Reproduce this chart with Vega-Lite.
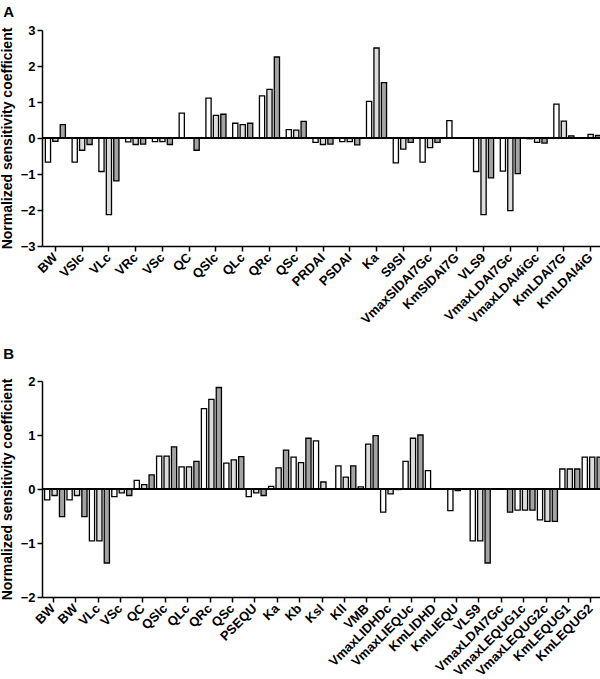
{
  "$schema": "https://vega.github.io/schema/vega-lite/v6.json",
  "padding": {"left": 0, "top": 5, "right": 0, "bottom": 0},
  "background": "white",
  "config": {
    "font": "Liberation Sans",
    "view": {"stroke": null},
    "axis": {"grid": false, "domainColor": "black", "domainWidth": 1.5, "tickColor": "black", "tickWidth": 1.5, "tickSize": 5, "labelColor": "black", "labelFont": "Liberation Sans", "labelFontWeight": "bold", "labelFontSize": 13, "titleFont": "Liberation Sans", "titleFontWeight": "bold", "titleFontSize": 14, "titleColor": "black"},
    "title": {"font": "Liberation Sans", "fontSize": 15, "fontWeight": "bold", "color": "black", "anchor": "start", "frame": "bounds"}
  },
  "datasets": {
    "A": [
      {"param": "BW", "series": "Condition 1", "value": -0.67}, {"param": "BW", "series": "Condition 2", "value": -0.09}, {"param": "BW", "series": "Condition 3", "value": 0.37},
      {"param": "VSlc", "series": "Condition 1", "value": -0.67}, {"param": "VSlc", "series": "Condition 2", "value": -0.34}, {"param": "VSlc", "series": "Condition 3", "value": -0.18},
      {"param": "VLc", "series": "Condition 1", "value": -0.93}, {"param": "VLc", "series": "Condition 2", "value": -2.13}, {"param": "VLc", "series": "Condition 3", "value": -1.19},
      {"param": "VRc", "series": "Condition 1", "value": -0.11}, {"param": "VRc", "series": "Condition 2", "value": -0.18}, {"param": "VRc", "series": "Condition 3", "value": -0.17},
      {"param": "VSc", "series": "Condition 1", "value": -0.1}, {"param": "VSc", "series": "Condition 2", "value": -0.1}, {"param": "VSc", "series": "Condition 3", "value": -0.18},
      {"param": "QC", "series": "Condition 1", "value": 0.69}, {"param": "QC", "series": "Condition 2", "value": 0.0}, {"param": "QC", "series": "Condition 3", "value": -0.34},
      {"param": "QSlc", "series": "Condition 1", "value": 1.11}, {"param": "QSlc", "series": "Condition 2", "value": 0.63}, {"param": "QSlc", "series": "Condition 3", "value": 0.66},
      {"param": "QLc", "series": "Condition 1", "value": 0.41}, {"param": "QLc", "series": "Condition 2", "value": 0.37}, {"param": "QLc", "series": "Condition 3", "value": 0.41},
      {"param": "QRc", "series": "Condition 1", "value": 1.17}, {"param": "QRc", "series": "Condition 2", "value": 1.35}, {"param": "QRc", "series": "Condition 3", "value": 2.25},
      {"param": "QSc", "series": "Condition 1", "value": 0.23}, {"param": "QSc", "series": "Condition 2", "value": 0.22}, {"param": "QSc", "series": "Condition 3", "value": 0.46},
      {"param": "PRDAI", "series": "Condition 1", "value": -0.12}, {"param": "PRDAI", "series": "Condition 2", "value": -0.18}, {"param": "PRDAI", "series": "Condition 3", "value": -0.17},
      {"param": "PSDAI", "series": "Condition 1", "value": -0.1}, {"param": "PSDAI", "series": "Condition 2", "value": -0.1}, {"param": "PSDAI", "series": "Condition 3", "value": -0.19},
      {"param": "Ka", "series": "Condition 1", "value": 1.02}, {"param": "Ka", "series": "Condition 2", "value": 2.5}, {"param": "Ka", "series": "Condition 3", "value": 1.54},
      {"param": "S9SI", "series": "Condition 1", "value": -0.69}, {"param": "S9SI", "series": "Condition 2", "value": -0.31}, {"param": "S9SI", "series": "Condition 3", "value": -0.12},
      {"param": "VmaxSIDAI7Gc", "series": "Condition 1", "value": -0.67}, {"param": "VmaxSIDAI7Gc", "series": "Condition 2", "value": -0.27}, {"param": "VmaxSIDAI7Gc", "series": "Condition 3", "value": -0.12},
      {"param": "KmSIDAI7G", "series": "Condition 1", "value": 0.48}, {"param": "KmSIDAI7G", "series": "Condition 2", "value": 0.01}, {"param": "KmSIDAI7G", "series": "Condition 3", "value": 0.0},
      {"param": "VLS9", "series": "Condition 1", "value": -0.93}, {"param": "VLS9", "series": "Condition 2", "value": -2.13}, {"param": "VLS9", "series": "Condition 3", "value": -1.11},
      {"param": "VmaxLDAI7Gc", "series": "Condition 1", "value": -0.92}, {"param": "VmaxLDAI7Gc", "series": "Condition 2", "value": -2.02}, {"param": "VmaxLDAI7Gc", "series": "Condition 3", "value": -0.99},
      {"param": "VmaxLDAI4iGc", "series": "Condition 1", "value": -0.02}, {"param": "VmaxLDAI4iGc", "series": "Condition 2", "value": -0.12}, {"param": "VmaxLDAI4iGc", "series": "Condition 3", "value": -0.14},
      {"param": "KmLDAI7G", "series": "Condition 1", "value": 0.94}, {"param": "KmLDAI7G", "series": "Condition 2", "value": 0.47}, {"param": "KmLDAI7G", "series": "Condition 3", "value": 0.06},
      {"param": "KmLDAI4iG", "series": "Condition 1", "value": 0.01}, {"param": "KmLDAI4iG", "series": "Condition 2", "value": 0.1}, {"param": "KmLDAI4iG", "series": "Condition 3", "value": 0.07}
    ],
    "B": [
      {"param": "BW", "series": "Condition 1", "value": -0.2}, {"param": "BW", "series": "Condition 2", "value": -0.12}, {"param": "BW", "series": "Condition 3", "value": -0.51},
      {"param": "BW (2)", "series": "Condition 1", "value": -0.2}, {"param": "BW (2)", "series": "Condition 2", "value": -0.12}, {"param": "BW (2)", "series": "Condition 3", "value": -0.51},
      {"param": "VLc", "series": "Condition 1", "value": -0.96}, {"param": "VLc", "series": "Condition 2", "value": -0.96}, {"param": "VLc", "series": "Condition 3", "value": -1.37},
      {"param": "VSc", "series": "Condition 1", "value": -0.14}, {"param": "VSc", "series": "Condition 2", "value": -0.07}, {"param": "VSc", "series": "Condition 3", "value": -0.12},
      {"param": "QC", "series": "Condition 1", "value": 0.16}, {"param": "QC", "series": "Condition 2", "value": 0.08}, {"param": "QC", "series": "Condition 3", "value": 0.26},
      {"param": "QSlc", "series": "Condition 1", "value": 0.61}, {"param": "QSlc", "series": "Condition 2", "value": 0.61}, {"param": "QSlc", "series": "Condition 3", "value": 0.78},
      {"param": "QLc", "series": "Condition 1", "value": 0.41}, {"param": "QLc", "series": "Condition 2", "value": 0.41}, {"param": "QLc", "series": "Condition 3", "value": 0.51},
      {"param": "QRc", "series": "Condition 1", "value": 1.49}, {"param": "QRc", "series": "Condition 2", "value": 1.66}, {"param": "QRc", "series": "Condition 3", "value": 1.88},
      {"param": "QSc", "series": "Condition 1", "value": 0.48}, {"param": "QSc", "series": "Condition 2", "value": 0.54}, {"param": "QSc", "series": "Condition 3", "value": 0.6},
      {"param": "PSEQU", "series": "Condition 1", "value": -0.14}, {"param": "PSEQU", "series": "Condition 2", "value": -0.07}, {"param": "PSEQU", "series": "Condition 3", "value": -0.12},
      {"param": "Ka", "series": "Condition 1", "value": 0.05}, {"param": "Ka", "series": "Condition 2", "value": 0.39}, {"param": "Ka", "series": "Condition 3", "value": 0.72},
      {"param": "Kb", "series": "Condition 1", "value": 0.59}, {"param": "Kb", "series": "Condition 2", "value": 0.49}, {"param": "Kb", "series": "Condition 3", "value": 0.94},
      {"param": "Ksl", "series": "Condition 1", "value": 0.89}, {"param": "Ksl", "series": "Condition 2", "value": 0.13}, {"param": "Ksl", "series": "Condition 3", "value": 0.0},
      {"param": "Kll", "series": "Condition 1", "value": 0.43}, {"param": "Kll", "series": "Condition 2", "value": 0.22}, {"param": "Kll", "series": "Condition 3", "value": 0.43},
      {"param": "VMB", "series": "Condition 1", "value": 0.04}, {"param": "VMB", "series": "Condition 2", "value": 0.83}, {"param": "VMB", "series": "Condition 3", "value": 0.99},
      {"param": "VmaxLIDHDc", "series": "Condition 1", "value": -0.43}, {"param": "VmaxLIDHDc", "series": "Condition 2", "value": -0.09}, {"param": "VmaxLIDHDc", "series": "Condition 3", "value": -0.01},
      {"param": "VmaxLIEQUc", "series": "Condition 1", "value": 0.51}, {"param": "VmaxLIEQUc", "series": "Condition 2", "value": 0.94}, {"param": "VmaxLIEQUc", "series": "Condition 3", "value": 1.0},
      {"param": "KmLIDHD", "series": "Condition 1", "value": 0.34}, {"param": "KmLIDHD", "series": "Condition 2", "value": 0.0}, {"param": "KmLIDHD", "series": "Condition 3", "value": 0.0},
      {"param": "KmLIEQU", "series": "Condition 1", "value": -0.4}, {"param": "KmLIEQU", "series": "Condition 2", "value": -0.03}, {"param": "KmLIEQU", "series": "Condition 3", "value": 0.0},
      {"param": "VLS9", "series": "Condition 1", "value": -0.96}, {"param": "VLS9", "series": "Condition 2", "value": -0.96}, {"param": "VLS9", "series": "Condition 3", "value": -1.37},
      {"param": "VmaxLDAI7Gc", "series": "Condition 1", "value": 0.0}, {"param": "VmaxLDAI7Gc", "series": "Condition 2", "value": 0.0}, {"param": "VmaxLDAI7Gc", "series": "Condition 3", "value": -0.43},
      {"param": "VmaxLEQUG1c", "series": "Condition 1", "value": -0.39}, {"param": "VmaxLEQUG1c", "series": "Condition 2", "value": -0.39}, {"param": "VmaxLEQUG1c", "series": "Condition 3", "value": -0.39},
      {"param": "VmaxLEQUG2c", "series": "Condition 1", "value": -0.57}, {"param": "VmaxLEQUG2c", "series": "Condition 2", "value": -0.6}, {"param": "VmaxLEQUG2c", "series": "Condition 3", "value": -0.6},
      {"param": "KmLEQUG1", "series": "Condition 1", "value": 0.37}, {"param": "KmLEQUG1", "series": "Condition 2", "value": 0.37}, {"param": "KmLEQUG1", "series": "Condition 3", "value": 0.37},
      {"param": "KmLEQUG2", "series": "Condition 1", "value": 0.59}, {"param": "KmLEQUG2", "series": "Condition 2", "value": 0.59}, {"param": "KmLEQUG2", "series": "Condition 3", "value": 0.59}
    ]
  },
  "spacing": 20,
  "vconcat": [
    {
      "title": {"text": "A", "dx": 3, "offset": 4},
      "width": 562,
      "height": 216,
      "data": {"name": "A"},
      "layer": [
        {
          "mark": {"type": "bar", "stroke": "black", "strokeWidth": 1.3},
          "encoding": {
            "x": {"field": "param", "type": "nominal", "sort": null, "scale": {"paddingInner": 0.25, "paddingOuter": 0.125}, "axis": {"title": null, "labelAngle": -45, "labelAlign": "right", "labelBaseline": "middle", "labelPadding": 4, "labelOverlap": false, "labelFontSize": 13}},
            "xOffset": {"field": "series", "type": "nominal", "scale": {"paddingInner": 0.3}},
            "y": {"field": "value", "type": "quantitative", "scale": {"domain": [-3, 3], "nice": false}, "axis": {"values": [-3, -2, -1, 0, 1, 2, 3], "format": "d", "labelOverlap": false, "title": "Normalized sensitivity coefficient", "titlePadding": 6, "labelPadding": 2}},
            "fill": {"field": "series", "type": "nominal", "scale": {"domain": ["Condition 1", "Condition 2", "Condition 3"], "range": ["#ffffff", "#dcdcdc", "#a3a3a3"]}, "legend": null}
          }
        },
        {
          "mark": {"type": "rule", "color": "black", "strokeWidth": 1.5},
          "encoding": {"y": {"datum": 0, "type": "quantitative", "axis": {"values": [-3, -2, -1, 0, 1, 2, 3], "format": "d", "labelOverlap": false, "title": "Normalized sensitivity coefficient", "titlePadding": 6, "labelPadding": 2}}}
        }
      ]
    },
    {
      "title": {"text": "B", "dx": 3, "offset": 13},
      "width": 560,
      "height": 216,
      "data": {"name": "B"},
      "layer": [
        {
          "mark": {"type": "bar", "stroke": "black", "strokeWidth": 1.3},
          "encoding": {
            "x": {"field": "param", "type": "nominal", "sort": null, "scale": {"paddingInner": 0.23, "paddingOuter": 0.115}, "axis": {"title": null, "labelAngle": -45, "labelAlign": "right", "labelBaseline": "middle", "labelPadding": 4, "labelOverlap": false, "labelFontSize": 13, "labelExpr": "datum.value == 'BW (2)' ? 'BW' : datum.label"}},
            "xOffset": {"field": "series", "type": "nominal", "scale": {"paddingInner": 0.2}},
            "y": {"field": "value", "type": "quantitative", "scale": {"domain": [-2, 2], "nice": false}, "axis": {"values": [-2, -1, 0, 1, 2], "format": "d", "labelOverlap": false, "title": "Normalized sensitivity coefficient", "titlePadding": 6, "labelPadding": 2}},
            "fill": {"field": "series", "type": "nominal", "scale": {"domain": ["Condition 1", "Condition 2", "Condition 3"], "range": ["#ffffff", "#dcdcdc", "#a3a3a3"]}, "legend": null}
          }
        },
        {
          "mark": {"type": "rule", "color": "black", "strokeWidth": 1.5},
          "encoding": {"y": {"datum": 0, "type": "quantitative", "axis": {"values": [-2, -1, 0, 1, 2], "format": "d", "labelOverlap": false, "title": "Normalized sensitivity coefficient", "titlePadding": 6, "labelPadding": 2}}}
        }
      ]
    }
  ]
}
